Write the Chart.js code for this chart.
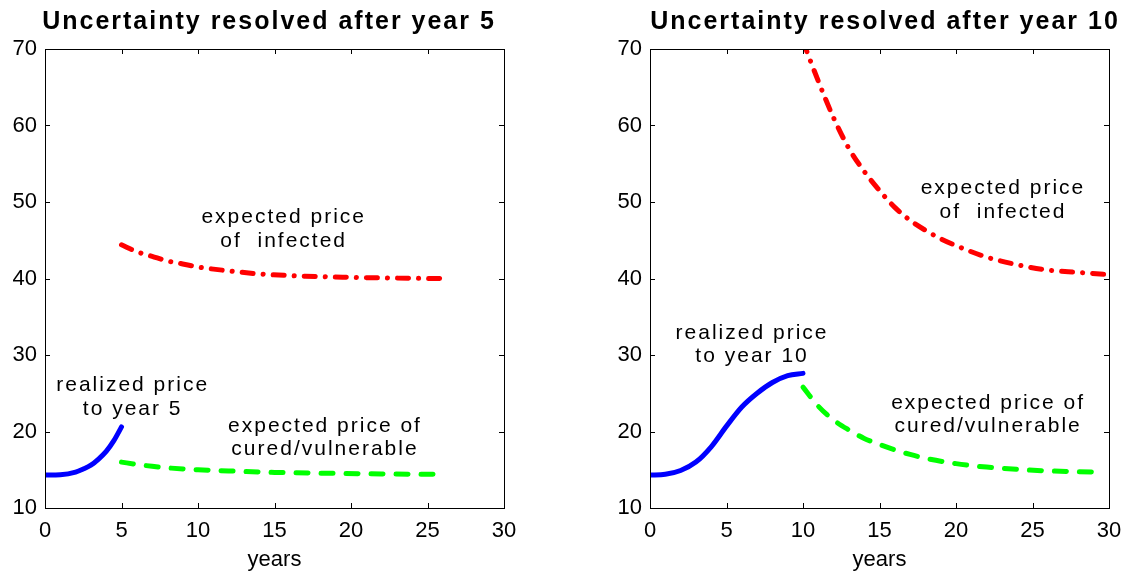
<!DOCTYPE html>
<html>
<head>
<meta charset="utf-8">
<script src="https://cdn.jsdelivr.net/npm/chart.js@4/dist/chart.umd.min.js"></script>
<style>
  html, body { margin: 0; padding: 0; background: #fff; }
  #wrap { position: relative; width: 1135px; height: 575px; }
  canvas { position: absolute; top: 0; }
  #left { left: 0; }
  #right { left: 567px; }
</style>
</head>
<body>
<div id="wrap">
  <canvas id="left" width="567" height="575"></canvas>
  <canvas id="right" width="568" height="575"></canvas>
</div>
<script>
// axis ticks
const yearTicks = [0, 5, 10, 15, 20, 25, 30];
const priceTicks = [10, 20, 30, 40, 50, 60, 70];

// left panel: uncertainty resolved after year 5
const realized5Years = [0, 1, 2, 2.5, 3, 3.5, 4, 4.5, 5];
const realized5 = [14.3, 14.35, 14.7, 15.1, 15.6, 16.4, 17.4, 18.8, 20.6];
const infected5Years = [5, 6, 7, 8, 9, 10, 12, 14, 17, 20, 23, 26];
const infected5 = [44.4, 43.5, 42.9, 42.3, 41.9, 41.5, 41.0, 40.6, 40.3, 40.15, 40.05, 40.0];
const cured5Years = [5, 6, 7, 8, 10, 12, 15, 18, 22, 26];
const cured5 = [16.0, 15.7, 15.45, 15.25, 15.0, 14.85, 14.65, 14.55, 14.45, 14.4];

// right panel: uncertainty resolved after year 10
const realized10Years = [0, 1, 2, 3, 4, 5, 6, 7, 8, 9, 10];
const realized10 = [14.3, 14.4, 14.9, 16.0, 18.0, 20.7, 23.2, 25.0, 26.4, 27.3, 27.6];
const infected10Years = [10, 11, 12, 13, 14, 15, 16, 17, 18, 19, 20, 22, 24, 26, 28, 30];
const infected10 = [71, 65.8, 61.0, 57.0, 54.0, 51.5, 49.3, 47.6, 46.3, 45.2, 44.3, 42.8, 41.8, 41.1, 40.8, 40.5];
const cured10Years = [10, 11, 12, 13, 14, 15, 16, 17, 18, 20, 22, 24, 26, 28, 29.5];
const cured10 = [25.8, 23.3, 21.5, 20.2, 19.1, 18.3, 17.6, 17.0, 16.5, 15.8, 15.35, 15.05, 14.85, 14.75, 14.7];

// text labels, anchored in data units
const notes5 = [
  { x: 15.6, y: 47.95, lines: ["expected price", "of  infected"] },
  { x: 5.73, y: 26.0, lines: ["realized price", "to year 5"] },
  { x: 18.3, y: 20.7, lines: ["expected price of", "cured/vulnerable"] }
];
const notes10 = [
  { x: 23.07, y: 51.75, lines: ["expected price", "of  infected"] },
  { x: 6.67, y: 32.9, lines: ["realized price", "to year 10"] },
  { x: 22.1, y: 23.74, lines: ["expected price of", "cured/vulnerable"] }
];

const FONT = "'Liberation Sans', Arial, sans-serif";

function pts(xs, ys) {
  return xs.map((x, i) => ({ x: x, y: ys[i] }));
}

const panelFrame = {
  id: "panelFrame",
  afterDraw(chart, args, opts) {
    const { ctx, chartArea: a } = chart;
    const xs = chart.scales.x, ys = chart.scales.y;
    ctx.save();
    ctx.strokeStyle = "#000";
    ctx.lineWidth = 1;
    ctx.strokeRect(a.left + 0.5, a.top + 0.5, a.right - a.left, a.bottom - a.top);
    ctx.beginPath();
    yearTicks.forEach(v => {
      if (v === xs.min || v === xs.max) return;
      const px = Math.round(xs.getPixelForValue(v)) + 0.5;
      ctx.moveTo(px, a.bottom); ctx.lineTo(px, a.bottom - 5);
      ctx.moveTo(px, a.top); ctx.lineTo(px, a.top + 5);
    });
    priceTicks.forEach(v => {
      if (v === ys.min || v === ys.max) return;
      const py = Math.round(ys.getPixelForValue(v)) + 0.5;
      ctx.moveTo(a.left, py); ctx.lineTo(a.left + 5, py);
      ctx.moveTo(a.right, py); ctx.lineTo(a.right - 5, py);
    });
    ctx.stroke();

    ctx.fillStyle = "#000";
    ctx.textAlign = "center";
    ctx.textBaseline = "alphabetic";
    ctx.font = "bold 25px " + FONT;
    ctx.letterSpacing = "2px";
    ctx.fillText(opts.title, opts.titleX, 29);

    ctx.font = "21px " + FONT;
    ctx.letterSpacing = "2px";
    ctx.textBaseline = "middle";
    opts.notes.forEach(n => {
      const px = xs.getPixelForValue(n.x);
      const py = ys.getPixelForValue(n.y);
      n.lines.forEach((line, i) => ctx.fillText(line, px, py + i * 23.5));
    });
    ctx.restore();
  }
};

function makePanel(id, data, title, titleX, notes, padLeft, padRight) {
  return new Chart(document.getElementById(id), {
    type: "line",
    data: {
      datasets: [
        {
          data: pts(data[0], data[1]),
          borderColor: "#0000ff",
          borderWidth: 5,
          borderCapStyle: "round",
          cubicInterpolationMode: "monotone"
        },
        {
          data: pts(data[2], data[3]),
          borderColor: "#ff0000",
          borderWidth: 5,
          borderCapStyle: "round",
          borderDash: [11, 10, 0.1, 10],
          cubicInterpolationMode: "monotone"
        },
        {
          data: pts(data[4], data[5]),
          borderColor: "#00ff00",
          borderWidth: 5,
          borderCapStyle: "round",
          borderDash: [12, 13],
          cubicInterpolationMode: "monotone"
        }
      ]
    },
    options: {
      responsive: false,
      animation: false,
      events: [],
      layout: { padding: { left: padLeft, right: padRight, top: 49, bottom: 0 } },
      elements: { point: { radius: 0 } },
      plugins: {
        legend: { display: false },
        tooltip: { enabled: false },
        panelFrame: { title: title, titleX: titleX, notes: notes }
      },
      scales: {
        x: {
          type: "linear",
          min: 0, max: 30,
          grid: { display: false, drawTicks: false },
          border: { display: false },
          afterFit: s => { s.height = 67; },
          ticks: {
            stepSize: 5, autoSkip: false, maxRotation: 0, padding: 10,
            color: "#000", font: { family: FONT, size: 22 }
          },
          title: {
            display: true, text: "years", color: "#000",
            font: { family: FONT, size: 22 }, padding: { top: 0, bottom: 2 }
          }
        },
        y: {
          min: 10, max: 70,
          grid: { display: false, drawTicks: false },
          border: { display: false },
          afterFit: s => { s.width = 45; },
          ticks: {
            stepSize: 10, autoSkip: false, padding: 8,
            color: "#000", font: { family: FONT, size: 22 }
          }
        }
      }
    },
    plugins: [panelFrame]
  });
}

makePanel("left", [realized5Years, realized5, infected5Years, infected5, cured5Years, cured5],
  "Uncertainty resolved after year 5", 269, notes5, 0, 63);
makePanel("right", [realized10Years, realized10, infected10Years, infected10, cured10Years, cured10],
  "Uncertainty resolved after year 10", 318, notes10, 38, 26);
</script>
</body>
</html>
